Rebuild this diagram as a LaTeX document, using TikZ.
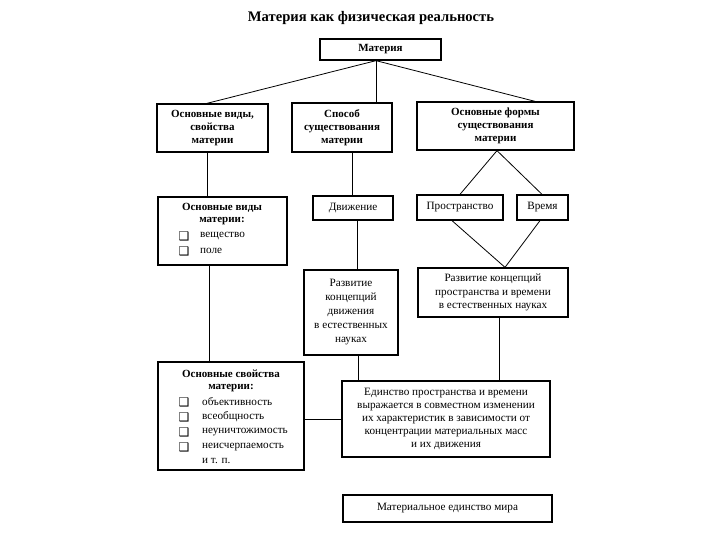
\documentclass[tikz,border=0pt]{standalone}
\usepackage{fontspec}
\setmainfont{Liberation Serif}
\newfontfamily\dingfont{DejaVu Sans}
\begin{document}
\begin{tikzpicture}[x=1pt,y=-1pt,
  box/.style={draw, line width=1.3pt, inner sep=0pt, align=center, font=\fontsize{11.2}{13}\selectfont},
  bbox/.style={box, font=\fontsize{11}{12.8}\selectfont\bfseries},
  link/.style={line width=0.8pt},
  item/.style={inner sep=0pt, anchor=west, font=\fontsize{11.2}{12}\selectfont},
  bitem/.style={inner sep=0pt, font=\fontsize{11}{12}\selectfont\bfseries},
  bul/.style={inner sep=0pt, font=\dingfont\fontsize{12}{12}\selectfont}
]
\useasboundingbox[fill=white] (0,0) rectangle (720,540);

\node[inner sep=0pt, font=\fontsize{14.6}{16}\selectfont\bfseries] (title) at (371,18) {Материя как физическая реальность};

\node[bbox, minimum width=121pt, minimum height=21pt] (mat) at (380.5,49.5) {Материя};

\node[bbox, minimum width=111pt, minimum height=48pt] (b1) at (212.5,128) {Основные виды,\\свойства\\материи};
\node[bbox, minimum width=100pt, minimum height=49pt] (b2) at (342,127.5) {Способ\\существования\\материи};
\node[bbox, minimum width=157pt, minimum height=48pt] (b3) at (495.5,126) {Основные формы\\существования\\материи};

% Основные виды материи
\node[box, minimum width=129pt, minimum height=68pt] (v) at (222.5,231) {};
\node[bitem] (vt1) at (222,208) {Основные виды};
\node[bitem] (vt2) at (222,221.5) {материи:};
\node[bul] (vb1) at (184,236.5) {❑};
\node[item] (vi1) at (200,236) {вещество};
\node[bul] (vb2) at (184,251.5) {❑};
\node[item] (vi2) at (200,251) {поле};

\node[box, minimum width=80pt, minimum height=24pt] (d) at (353,208) {Движение};
\node[box, minimum width=86pt, minimum height=25pt] (p) at (460,207.5) {Пространство};
\node[box, minimum width=51pt, minimum height=25pt] (t) at (542.5,207.5) {Время};

\node[box, minimum width=94pt, minimum height=85pt, font=\fontsize{11.2}{14}\selectfont] (rd) at (351,312.5) {Развитие\\концепций\\движения\\в естественных\\науках};
\node[box, minimum width=150pt, minimum height=49pt, font=\fontsize{11.2}{13.5}\selectfont] (rp) at (493,292.5) {Развитие концепций\\пространства и времени\\в естественных науках};

% Основные свойства материи
\node[box, minimum width=146pt, minimum height=108pt] (s) at (231,416) {};
\node[bitem] (st1) at (231,374) {Основные свойства};
\node[bitem] (st2) at (231,388) {материи:};
\node[bul] (sb1) at (184,402.5) {❑};
\node[item] (si1) at (202,402) {объективность};
\node[bul] (sb2) at (184,417.5) {❑};
\node[item] (si2) at (202,417) {всеобщность};
\node[bul] (sb3) at (184,432.5) {❑};
\node[item] (si3) at (202,432) {неуничтожимость};
\node[bul] (sb4) at (184,447.5) {❑};
\node[item] (si4) at (202,447) {неисчерпаемость};
\node[item] (si5) at (202,461) {и т. п.};

\node[box, minimum width=208pt, minimum height=76pt, font=\fontsize{11.2}{13}\selectfont] (e) at (446,419) {Единство пространства и времени\\выражается в совместном изменении\\их характеристик в зависимости от\\концентрации материальных масс\\и их движения};

\node[box, minimum width=209pt, minimum height=27pt] (m) at (447.5,508.5) {Материальное единство мира};

% connectors
\coordinate (apex) at ([xshift=-4.5pt]mat.south);
\draw[link] (apex) -- ([xshift=-5.5pt]b1.north);
\draw[link] (apex) -- ([xshift=34pt]b2.north);
\draw[link] (apex) -- ([xshift=39.5pt]b3.north);
\draw[link] ([xshift=-5.5pt]b1.south) -- ([xshift=-15.5pt]v.north);
\draw[link] ([xshift=10pt]b2.south) -- ([xshift=-1pt]d.north);
\coordinate (apex3) at ([xshift=1.5pt]b3.south);
\draw[link] (apex3) -- (p.north);
\draw[link] (apex3) -- ([xshift=-0.5pt]t.north);
\coordinate (vee) at ([xshift=12pt]rp.north);
\draw[link] ([xshift=-8pt]p.south) -- (vee);
\draw[link] ([xshift=-2.5pt]t.south) -- (vee);
\draw[link] ([xshift=-13.5pt]v.south) -- ([xshift=-22pt]s.north);
\draw[link] ([xshift=4pt]d.south) -- ([xshift=6pt]rd.north);
\draw[link] ([xshift=7pt]rd.south) -- ([xshift=-88pt]e.north);
\draw[link] ([xshift=6pt]rp.south) -- ([xshift=53pt]e.north);
\draw[link] (s.east |- e.west) -- (e.west);
\end{tikzpicture}
\end{document}
